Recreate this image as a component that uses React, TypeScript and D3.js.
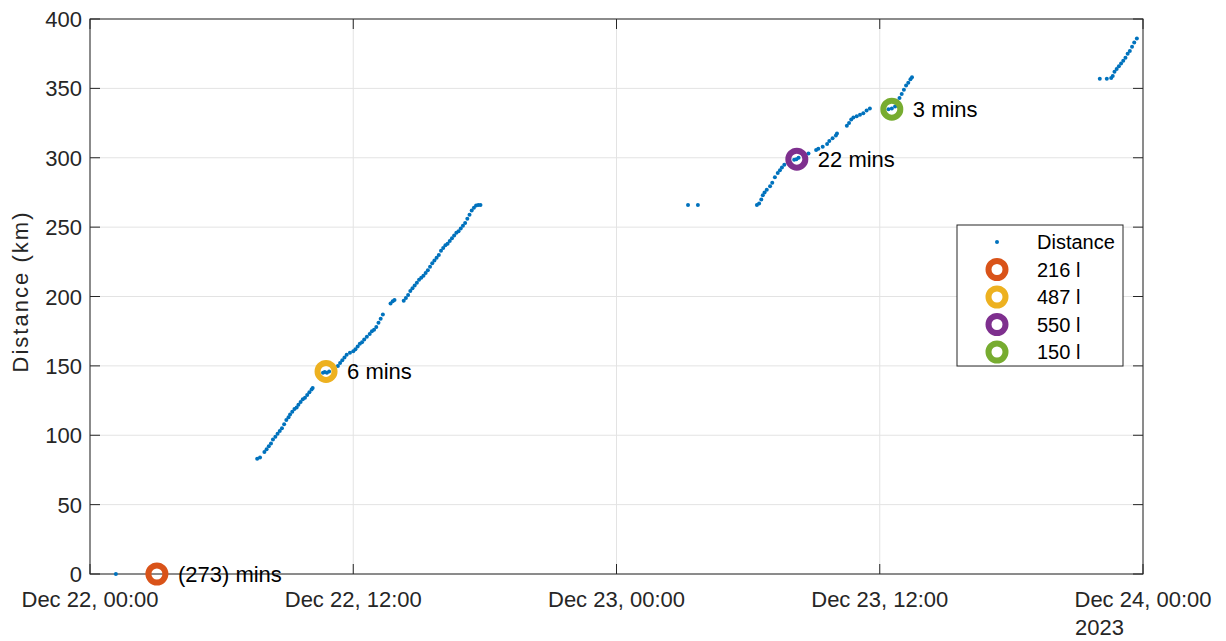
import React from "react";
import * as d3 from "d3";

// hours since Dec 22 2023 00:00, distance km
const isolatedPoint: [number, number][] = [[1.18, 0]];
const segment1: [number, number][] = [
  [7.62, 83], [7.75, 84], [7.95, 88], [8.05, 90], [8.15, 92], [8.25, 94], [8.34, 97], [8.45, 99], [8.55, 101],
  [8.65, 103], [8.75, 105], [8.85, 108], [8.95, 111], [9.05, 113], [9.12, 115], [9.22, 117], [9.32, 119],
  [9.42, 120], [9.5, 122], [9.6, 124], [9.7, 126], [9.8, 127], [9.9, 129], [10.0, 131], [10.1, 133], [10.15, 134],
  [10.62, 145], [10.7, 145.5], [10.8, 145], [10.9, 146],
  [11.3, 150], [11.4, 152], [11.5, 154], [11.6, 156], [11.7, 158], [11.85, 159.5], [12.0, 160.5], [12.1, 162],
  [12.2, 164], [12.3, 166], [12.4, 167], [12.5, 169], [12.62, 171], [12.75, 173], [12.85, 175], [12.95, 176],
  [13.05, 178], [13.15, 181], [13.25, 184], [13.35, 187],
  [13.7, 195], [13.8, 196.5], [13.88, 197.5],
  [14.3, 197], [14.4, 199], [14.5, 201], [14.6, 204], [14.7, 206], [14.8, 208], [14.9, 210], [15.0, 212],
  [15.1, 213.5], [15.2, 215], [15.3, 217], [15.4, 219], [15.5, 221.5], [15.6, 224], [15.7, 226], [15.8, 228],
  [15.9, 230], [16.0, 233], [16.1, 235], [16.2, 237], [16.3, 238], [16.4, 240], [16.5, 242], [16.6, 244],
  [16.7, 246], [16.8, 247], [16.9, 249], [17.0, 251], [17.1, 253], [17.2, 256], [17.3, 259], [17.4, 262],
  [17.5, 264], [17.6, 265.5], [17.7, 266], [17.8, 266],
];
const segment2: [number, number][] = [
  [27.26, 266], [27.71, 266],
  [30.4, 266], [30.5, 267], [30.6, 270], [30.67, 273], [30.75, 275], [30.85, 277], [31.0, 279.5], [31.1, 282],
  [31.22, 286], [31.35, 289], [31.45, 291], [31.54, 293], [31.65, 295],
  [32.1, 298.5], [32.2, 299], [32.3, 300],
  [32.6, 302], [32.75, 303],
  [33.1, 305.5], [33.2, 306.5], [33.4, 308], [33.6, 310], [33.7, 312], [33.85, 314], [34.0, 316], [34.05, 317.5],
  [34.5, 323], [34.6, 325], [34.7, 327.5], [34.8, 329], [34.95, 330], [35.1, 331], [35.25, 332], [35.4, 334],
  [35.55, 335.5],
  [36.4, 335], [36.55, 335.5], [36.7, 337], [36.8, 340.5], [36.9, 343], [37.0, 346], [37.1, 349], [37.2, 352],
  [37.3, 354], [37.4, 356.5], [37.47, 358],
];
const segment3: [number, number][] = [
  [46.03, 357], [46.35, 357], [46.55, 357.5], [46.62, 359], [46.7, 362], [46.8, 364], [46.9, 366], [47.0, 368],
  [47.1, 370], [47.2, 372], [47.3, 375], [47.4, 377], [47.5, 380], [47.6, 383], [47.72, 386],
];

const stopHours = [3.05, 10.76, 32.22, 36.55];
const stopKm = [0, 146, 299, 335];
const stopLabels = ["(273) mins", "6 mins", "22 mins", "3 mins"];
const legendLabels = ["216 l", "487 l", "550 l", "150 l"];
const yTicks = [0, 50, 100, 150, 200, 250, 300, 350, 400];
const xTickHours = [0, 12, 24, 36, 48];

const stopColors = ["#D95319", "#EDB120", "#7E2F8E", "#77AC30"];
const BLUE = "#0072BD";
const FONT = "'Liberation Sans', Arial, Helvetica, sans-serif";

const base = new Date(2023, 11, 22, 0, 0);
const toDate = (h: number) => new Date(base.getTime() + h * 3600 * 1000);

export default function App() {
  const W = 1226, H = 641;
  const L = 90, R = 1143, T = 19, B = 574;
  const x = d3.scaleTime().domain([toDate(0), toDate(48)]).range([L, R]);
  const y = d3.scaleLinear().domain([0, 400]).range([B, T]);
  const fmt = d3.timeFormat("%b %d, %H:%M");
  const allPts = [...isolatedPoint, ...segment1, ...segment2, ...segment3];
  const axisColor = "#262626";

  const legX = 957, legY = 225, legW = 166, legH = 141;
  const rowY = (i: number) => legY + 17 + i * 27.5;

  return (
    <svg width={W} height={H} style={{ position: "absolute", left: 0, top: 0, background: "#fff" }} fontFamily={FONT}>
      <rect x={0} y={0} width={W} height={H} fill="#fff" />
      {/* grid */}
      {yTicks.map((t) => (
        <line key={"gy" + t} x1={L} x2={R} y1={y(t)} y2={y(t)} stroke="#e3e3e3" strokeWidth={1} />
      ))}
      {xTickHours.map((h) => (
        <line key={"gx" + h} x1={x(toDate(h))} x2={x(toDate(h))} y1={T} y2={B} stroke="#e3e3e3" strokeWidth={1} />
      ))}
      {/* box */}
      <rect x={L} y={T} width={R - L} height={B - T} fill="none" stroke={axisColor} strokeWidth={1} />
      {/* ticks */}
      {yTicks.map((t) => (
        <g key={"ty" + t}>
          <line x1={L} x2={L + 10} y1={y(t)} y2={y(t)} stroke={axisColor} />
          <line x1={R} x2={R - 10} y1={y(t)} y2={y(t)} stroke={axisColor} />
          <text x={L - 8} y={y(t) + 8} textAnchor="end" fontSize={22} fill={axisColor}>{t}</text>
        </g>
      ))}
      {xTickHours.map((h) => (
        <g key={"tx" + h}>
          <line x1={x(toDate(h))} x2={x(toDate(h))} y1={B} y2={B - 10} stroke={axisColor} />
          <line x1={x(toDate(h))} x2={x(toDate(h))} y1={T} y2={T + 10} stroke={axisColor} />
          <text x={x(toDate(h))} y={607} textAnchor="middle" fontSize={22} fill={axisColor}>{fmt(toDate(h))}</text>
        </g>
      ))}
      <text x={x(toDate(48)) - 68} y={635} fontSize={22} fill={axisColor}>2023</text>
      <text transform={`translate(28,${(T + B) / 2 - 4}) rotate(-90)`} textAnchor="middle" fontSize={22}
        textLength={160} lengthAdjust="spacing" fill={axisColor}>Distance (km)</text>

      {/* data */}
      {allPts.map((p, i) => (
        <circle key={"p" + i} cx={x(toDate(p[0]))} cy={y(p[1])} r={2} fill={BLUE} />
      ))}
      {/* stops */}
      {stopHours.map((h, i) => (
        <g key={"s" + i}>
          <circle cx={x(toDate(h))} cy={y(stopKm[i])} r={8.5} fill="none" stroke={stopColors[i]} strokeWidth={6} />
          <text x={x(toDate(h)) + 21} y={y(stopKm[i]) + 8} fontSize={22} fill="#000">{stopLabels[i]}</text>
        </g>
      ))}
      {/* legend */}
      <rect x={legX} y={legY} width={legW} height={legH} fill="#fff" stroke={axisColor} strokeWidth={1} />
      <circle cx={997} cy={rowY(0)} r={2} fill={BLUE} />
      <text x={1037} y={rowY(0) + 7} fontSize={20} fill="#000">Distance</text>
      {legendLabels.map((lab, i) => (
        <g key={"l" + i}>
          <circle cx={997} cy={rowY(i + 1)} r={8.5} fill="none" stroke={stopColors[i]} strokeWidth={6} />
          <text x={1037} y={rowY(i + 1) + 7} fontSize={20} fill="#000">{lab}</text>
        </g>
      ))}
    </svg>
  );
}
